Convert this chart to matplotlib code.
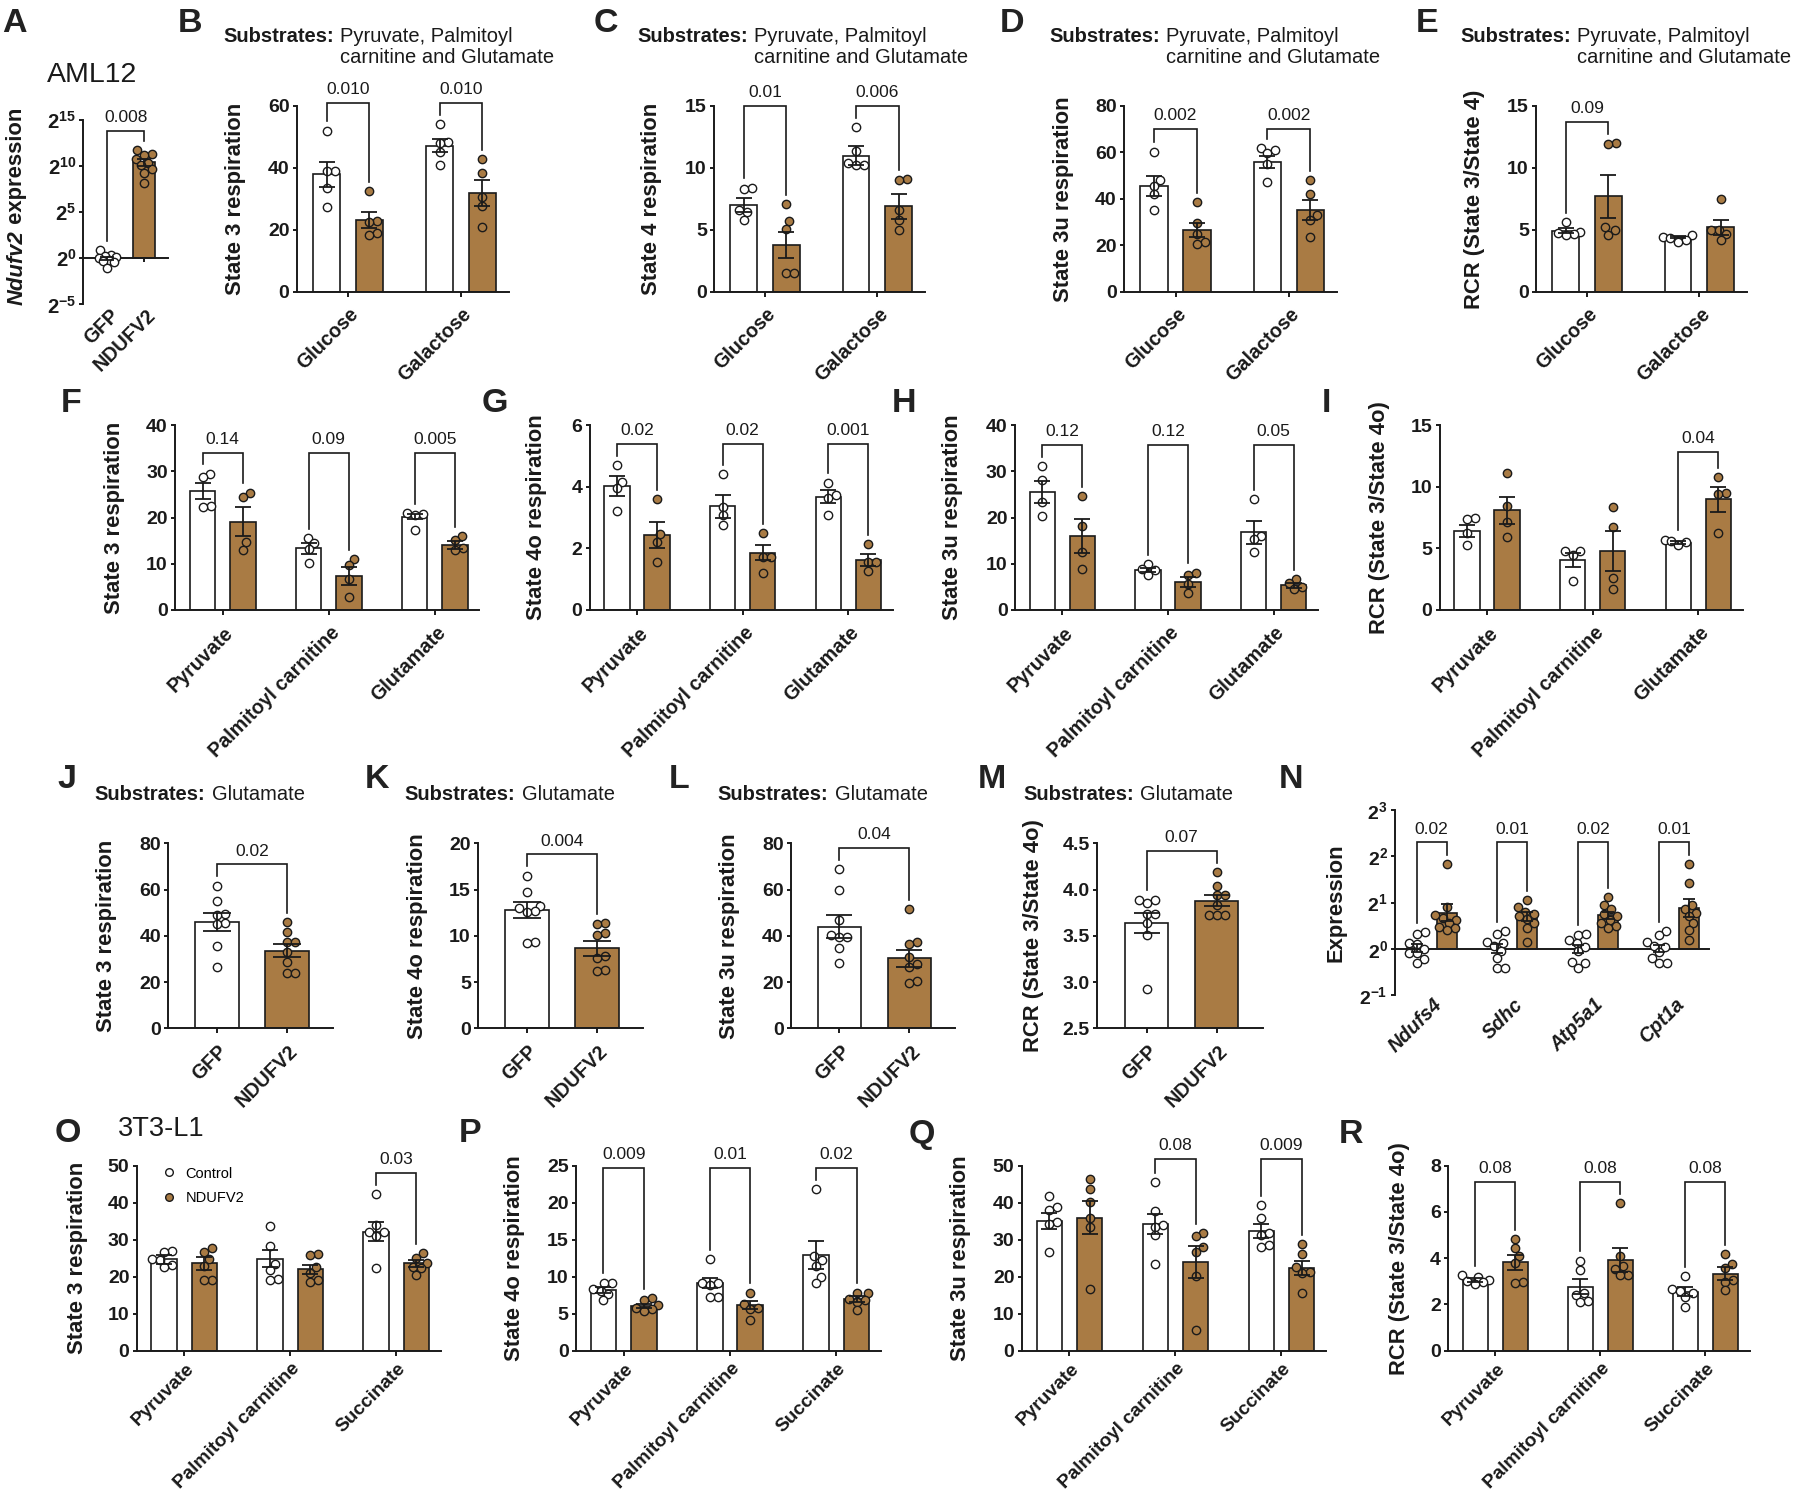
import numpy as np
import matplotlib
matplotlib.use('Agg')
import matplotlib.pyplot as plt
from matplotlib.lines import Line2D
from matplotlib.transforms import blended_transform_factory, ScaledTranslation

# ---------------------------------------------------------------- data ----
# Panel A (AML12, log2 expression)
A_labels = ['GFP', 'NDUFV2']
A_gfp_log2 = [0.9, 0.35, 0.2, 0.1, 0.0, -0.15, -0.25, -0.45, -1.0]
A_ndufv2_log2 = [11.7, 11.3, 11.2, 10.8, 10.3, 10.1, 9.7, 9.3, 8.2]
A_mean_log2 = [0.0, 10.4]
A_sem_log2 = [0.18, 0.4]
A_p = '0.008'

# Panels B-E (Glucose / Galactose)
BE_groups = ['Glucose', 'Galactose']
B_ctrl = [[52.0, 39.0, 39.0, 33.5, 27.3], [54.1, 48.5, 48.2, 45.2, 40.9]]
B_nd = [[32.5, 23.0, 22.6, 18.9, 18.3], [42.8, 38.5, 30.7, 27.7, 21.0]]
B_ctrl_mean, B_ctrl_sem = [37.9, 47.2], [4.0, 2.2]
B_nd_mean, B_nd_sem = [23.2, 31.8], [2.5, 4.2]
B_p = ['0.010', '0.010']

C_ctrl = [[8.4, 8.3, 6.6, 6.4, 5.8], [13.3, 11.4, 10.4, 10.2, 10.2]]
C_nd = [[7.1, 5.7, 5.1, 1.5, 1.5], [9.1, 9.0, 6.6, 5.8, 5.0]]
C_ctrl_mean, C_ctrl_sem = [7.0, 11.0], [0.57, 0.74]
C_nd_mean, C_nd_sem = [3.8, 6.9], [1.05, 1.0]
C_p = ['0.01', '0.006']

D_ctrl = [[60.3, 48.1, 45.5, 41.9, 35.2], [61.8, 61.0, 59.6, 54.9, 47.4]]
D_nd = [[38.5, 29.7, 25.0, 21.5, 20.5], [48.1, 42.1, 33.0, 30.9, 23.4]]
D_ctrl_mean, D_ctrl_sem = [45.5, 56.0], [4.3, 2.5]
D_nd_mean, D_nd_sem = [26.6, 35.2], [3.0, 4.5]
D_p = ['0.002', '0.002']

E_ctrl = [[5.6, 4.85, 4.75, 4.7, 4.55], [4.6, 4.4, 4.3, 4.2, 4.05]]
E_nd = [[12.0, 11.9, 5.2, 5.0, 4.6], [7.5, 5.0, 5.0, 4.7, 4.2]]
E_ctrl_mean, E_ctrl_sem = [4.93, 4.4], [0.2, 0.1]
E_nd_mean, E_nd_sem = [7.7, 5.2], [1.75, 0.6]
E_p = ['0.09', None]

# Panels F-I (Pyruvate / Palmitoyl carnitine / Glutamate)
FI_groups = ['Pyruvate', 'Palmitoyl carnitine', 'Glutamate']
F_ctrl = [[29.5, 28.8, 22.4, 22.3], [15.6, 14.5, 13.2, 10.1], [20.9, 20.7, 20.5, 17.3]]
F_nd = [[25.4, 24.5, 14.6, 13.0], [11.0, 9.7, 6.6, 2.9], [16.0, 15.1, 13.3, 13.0]]
F_ctrl_mean, F_ctrl_sem = [25.7, 13.3, 20.2], [1.75, 1.15, 0.6]
F_nd_mean, F_nd_sem = [19.1, 7.4, 14.05], [3.2, 2.0, 0.8]
F_p = ['0.14', '0.09', '0.005']

G_ctrl = [[4.7, 4.15, 3.95, 3.2], [4.4, 3.35, 3.08, 2.76], [4.13, 3.72, 3.62, 3.08]]
G_nd = [[3.6, 2.45, 2.2, 1.57], [2.5, 1.73, 1.73, 1.19], [2.13, 1.57, 1.57, 1.28]]
G_ctrl_mean, G_ctrl_sem = [4.02, 3.37, 3.68], [0.31, 0.37, 0.2]
G_nd_mean, G_nd_sem = [2.43, 1.86, 1.62], [0.43, 0.25, 0.2]
G_p = ['0.02', '0.02', '0.001']

H_ctrl = [[31.1, 28.1, 23.4, 20.3], [9.9, 8.8, 8.6, 7.6], [24.0, 16.0, 15.3, 12.6]]
H_nd = [[24.7, 18.2, 12.6, 8.8], [8.1, 7.6, 5.6, 3.6], [6.6, 5.9, 5.0, 4.5]]
H_ctrl_mean, H_ctrl_sem = [25.6, 8.65, 16.8], [2.4, 0.5, 2.45]
H_nd_mean, H_nd_sem = [16.0, 6.1, 5.3], [3.6, 1.1, 0.45]
H_p = ['0.12', '0.12', '0.05']

I_ctrl = [[7.43, 7.35, 6.27, 5.27], [4.8, 4.8, 4.5, 2.35], [5.7, 5.6, 5.5, 5.3]]
I_nd = [[11.08, 8.43, 7.16, 5.95], [8.38, 6.76, 2.57, 1.68], [10.76, 9.46, 9.4, 6.27]]
I_ctrl_mean, I_ctrl_sem = [6.43, 4.05, 5.46], [0.5, 0.55, 0.1]
I_nd_mean, I_nd_sem = [8.1, 4.8, 8.97], [1.1, 1.6, 1.0]
I_p = [None, None, '0.04']

# Panels J-M (Glutamate, GFP vs NDUFV2)
JM_labels = ['GFP', 'NDUFV2']
J_gfp = [61.7, 55.1, 49.5, 49.0, 45.5, 45.0, 35.6, 26.7]
J_nd = [45.8, 41.8, 37.5, 37.5, 33.0, 28.8, 23.8, 23.8]
J_mean, J_sem = [45.8, 33.6], [3.9, 2.9]
J_p = '0.02'

K_gfp = [16.5, 14.7, 13.2, 13.0, 12.7, 12.6, 9.3, 9.2]
K_nd = [11.4, 11.3, 10.3, 10.1, 7.8, 7.6, 6.3, 6.2]
K_mean, K_sem = [12.8, 8.65], [0.9, 0.78]
K_p = '0.004'

L_gfp = [68.9, 59.8, 46.8, 40.5, 39.6, 39.6, 34.6, 28.1]
L_nd = [51.5, 37.5, 36.5, 31.0, 28.0, 26.7, 20.5, 19.5]
L_mean, L_sem = [44.0, 30.3], [5.0, 3.7]
L_p = '0.04'

M_gfp = [3.89, 3.89, 3.86, 3.74, 3.74, 3.64, 3.51, 2.93]
M_nd = [4.19, 4.04, 3.94, 3.94, 3.83, 3.73, 3.73, 3.73]
M_mean, M_sem = [3.635, 3.88], [0.11, 0.06]
M_p = '0.07'

# Panel N (gene expression, log2)
N_genes = ['Ndufs4', 'Sdhc', 'Atp5a1', 'Cpt1a']
N_gfp_log2 = [[0.36, 0.31, 0.12, 0.10, 0.0, -0.1, -0.1, -0.22, -0.3],
              [0.38, 0.31, 0.15, 0.12, 0.05, -0.05, -0.2, -0.42, -0.42],
              [0.29, 0.31, 0.18, 0.12, 0.04, -0.05, -0.29, -0.31, -0.41],
              [0.38, 0.29, 0.15, 0.07, 0.04, -0.07, -0.2, -0.31, -0.31]]
N_nd_log2 = [[1.83, 0.91, 0.72, 0.67, 0.62, 0.55, 0.47, 0.45, 0.40],
             [1.05, 0.9, 0.8, 0.75, 0.7, 0.65, 0.55, 0.45, 0.15],
             [1.12, 0.95, 0.85, 0.75, 0.7, 0.62, 0.55, 0.49, 0.45],
             [1.83, 1.43, 0.95, 0.85, 0.78, 0.7, 0.55, 0.4, 0.2]]
N_gfp_mean_log2, N_gfp_sem_log2 = [0.02, 0.0, 0.0, 0.0], [0.08, 0.1, 0.09, 0.08]
N_nd_mean_log2, N_nd_sem_log2 = [0.78, 0.69, 0.72, 0.88], [0.18, 0.1, 0.08, 0.2]
N_p = ['0.02', '0.01', '0.02', '0.01']

# Panels O-R (3T3-L1: Pyruvate / Palmitoyl carnitine / Succinate)
OR_groups = ['Pyruvate', 'Palmitoyl carnitine', 'Succinate']
O_ctrl = [[27.0, 26.8, 24.8, 24.5, 23.2, 22.7], [33.7, 28.2, 23.5, 21.8, 19.3, 19.1],
          [42.3, 34.0, 32.2, 32.0, 31.0, 22.3]]
O_nd = [[27.7, 26.8, 24.7, 23.0, 19.1, 19.1], [26.1, 25.9, 22.7, 21.1, 19.1, 18.6],
        [26.3, 25.0, 23.8, 22.7, 22.3, 20.5]]
O_ctrl_mean, O_ctrl_sem = [24.7, 24.9, 32.2], [1.15, 2.25, 2.6]
O_nd_mean, O_nd_sem = [23.6, 22.0, 23.6], [1.8, 1.2, 0.9]
O_p = [None, None, '0.03']

P_ctrl = [[9.2, 9.1, 8.3, 8.1, 7.7, 6.85], [12.34, 9.19, 9.19, 8.87, 7.2, 7.2],
          [21.8, 12.8, 12.3, 11.5, 10.0, 9.1]]
P_nd = [[7.1, 6.9, 6.2, 5.75, 5.6, 5.4], [7.84, 6.3, 5.72, 5.59, 4.14],
        [7.84, 7.75, 7.0, 6.85, 6.6, 5.5]]
P_ctrl_mean, P_ctrl_sem = [8.2, 9.19, 12.93], [0.4, 0.68, 1.92]
P_nd_mean, P_nd_sem = [6.04, 6.17, 6.94], [0.3, 0.55, 0.4]
P_p = ['0.009', '0.01', '0.02']

Q_ctrl = [[41.8, 38.9, 38.0, 34.9, 34.2, 26.6], [45.5, 37.8, 34.0, 33.5, 31.2, 23.4],
          [39.4, 36.0, 31.7, 31.3, 28.6, 28.1]]
Q_nd = [[46.4, 43.6, 40.3, 35.8, 33.5, 16.8], [31.8, 31.0, 28.0, 26.8, 20.2, 5.6],
        [28.8, 26.1, 22.7, 21.4, 21.1, 15.5]]
Q_ctrl_mean, Q_ctrl_sem = [35.1, 34.2, 32.4], [2.25, 2.7, 1.9]
Q_nd_mean, Q_nd_sem = [36.0, 23.9, 22.4], [4.4, 4.3, 1.9]
Q_p = [None, '0.08', '0.009']

R_ctrl = [[3.27, 3.2, 3.05, 3.0, 2.95, 2.9], [3.9, 3.5, 2.5, 2.4, 2.15, 2.1],
          [3.23, 2.65, 2.6, 2.48, 2.34, 1.9]]
R_nd = [[4.81, 4.43, 4.1, 3.8, 2.95, 2.94], [6.37, 4.1, 3.65, 3.55, 3.28, 3.27],
        [4.18, 3.75, 3.56, 3.06, 2.98, 2.62]]
R_ctrl_mean, R_ctrl_sem = [3.06, 2.77, 2.55], [0.1, 0.32, 0.2]
R_nd_mean, R_nd_sem = [3.82, 3.92, 3.32], [0.31, 0.52, 0.28]
R_p = ['0.08', '0.08', '0.08']

# ------------------------------------------------------------- styling ----
W, H, DPI = 1800, 1497, 100
plt.rcParams['font.family'] = ['Liberation Sans', 'DejaVu Sans']
plt.rcParams['mathtext.fontset'] = 'custom'
plt.rcParams['mathtext.rm'] = 'Liberation Sans'
plt.rcParams['mathtext.bf'] = 'Liberation Sans:bold'
plt.rcParams['mathtext.it'] = 'Liberation Sans:italic'

INK = '#1a1a1a'
BROWN = '#A97B44'
TICK_FS = 14
XLAB_FS = 14.2
YLAB_FS = 15.8
P_FS = 12.5
LETTER_FS = 24.5
MS = 6.0
SPINE_LW = 1.4

fig = plt.figure(figsize=(W / DPI, H / DPI), dpi=DPI)
fig.patch.set_facecolor('white')


def swarm(ypx, diam, limit):
    ypx = np.asarray(ypx, float)
    offs = np.zeros(len(ypx))
    placed = []
    cands = [0.0]
    for k in range(1, 80):
        cands += [k * 0.5, -k * 0.5]
    for i in np.argsort(ypx):
        y = ypx[i]
        chosen = None
        for c in cands:
            if abs(c) > limit:
                break
            if all((c - px) ** 2 + (y - py) ** 2 >= diam ** 2 for px, py in placed):
                chosen = c
                break
        if chosen is None:
            best, chosen = -1, 0.0
            for c in cands:
                if abs(c) > limit:
                    continue
                d = min([(c - px) ** 2 + (y - py) ** 2 for px, py in placed] or [1e9])
                if d > best:
                    best, chosen = d, c
        placed.append((chosen, y))
        offs[i] = chosen
    return offs


def draw_panel(L, ctrl, nd, cmean, csem, nmean, nsem, pvals, xc, xn, ticks, ticklabels):
    x0, x1, yt, yb = L['box']
    ax = fig.add_axes([x0 / W, 1 - yb / H, (x1 - x0) / W, (yb - yt) / H])
    log = L.get('log', False)
    if log:
        ax.set_yscale('log', base=2)
        tr = lambda v: np.exp2(np.asarray(v, float))
        base = 1.0
    else:
        tr = lambda v: np.asarray(v, float)
        base = 0.0
    xlim, ylim = L['xlim'], L['ylim']
    ax.set_xlim(*xlim)
    ax.set_ylim(*tr(ylim))
    xppu = (x1 - x0) / (xlim[1] - xlim[0])
    yppu = (yb - yt) / (ylim[1] - ylim[0])
    bw = L['bw']
    cap = 0.31 * bw * xppu * 72 / DPI
    lim = L.get('swarm_lim', 0.55) * bw * xppu
    xc = np.asarray(xc, float)
    xn = np.asarray(xn, float)
    for xs, means, sems, pts, face in ((xc, cmean, csem, ctrl, 'white'), (xn, nmean, nsem, nd, BROWN)):
        m = np.asarray(means, float)
        s = np.asarray(sems, float)
        ax.bar(xs, tr(m) - base, bottom=base, width=bw, color=face, edgecolor=INK,
               linewidth=1.2, zorder=2)
        ax.errorbar(xs, tr(m), yerr=[tr(m) - tr(m - s), tr(m + s) - tr(m)], fmt='none',
                    ecolor=INK, elinewidth=1.3, capsize=cap, capthick=1.3, zorder=4)
        for xi, grp in zip(xs, pts):
            v = np.asarray(grp, float)
            offs = swarm((v - ylim[0]) * yppu, 8.0, lim) / xppu
            ax.plot(xi + offs, tr(v), 'o', ms=MS, mfc=face, mec=INK, mew=1.0,
                    zorder=3, clip_on=False)
    # brackets
    gap = 0.05 * (ylim[1] - ylim[0])
    for i, p in enumerate(pvals):
        if p is None:
            continue
        lc = max(max(ctrl[i]), cmean[i] + csem[i]) + gap
        ln = max(max(nd[i]), nmean[i] + nsem[i]) + gap
        top = L['top']
        ax.plot([xc[i], xc[i], xn[i], xn[i]], tr([lc, top, top, ln]), color=INK, lw=1.2,
                clip_on=False, zorder=5, solid_joinstyle='miter')
        ax.annotate(p, xy=((xc[i] + xn[i]) / 2, tr(top)), xytext=(0, 6.3),
                    textcoords='offset points', ha='center', va='baseline',
                    fontsize=P_FS, color=INK, annotation_clip=False)
    # axes styling
    for side in ('top', 'right'):
        ax.spines[side].set_visible(False)
    for side in ('left', 'bottom'):
        ax.spines[side].set_linewidth(SPINE_LW)
        ax.spines[side].set_color(INK)
    if log:
        ax.spines['bottom'].set_position(('data', 1.0))
    yt_vals = L['yticks']
    ax.set_yticks(tr(yt_vals))
    if log:
        ylabels = [r'$\mathbf{2^{%d}}$' % k for k in yt_vals]
    elif L.get('fmt'):
        ylabels = [L['fmt'] % k for k in yt_vals]
    else:
        ylabels = ['%d' % k for k in yt_vals]
    ax.set_yticklabels(ylabels, fontsize=L.get('ytfs', TICK_FS), fontweight='bold', color=INK)
    ax.yaxis.set_minor_locator(matplotlib.ticker.NullLocator())
    ax.tick_params(axis='y', length=3.2, width=SPINE_LW, pad=2, color=INK)
    ax.set_xticks(ticks)
    ax.set_xticklabels([])
    ax.tick_params(axis='x', length=L.get('xtl', 3.5), width=SPINE_LW, color=INK)
    dx, dy = L.get('xoff', (1, 13))
    trans = blended_transform_factory(ax.transData, ax.transAxes) + \
        ScaledTranslation(dx / DPI, -dy / DPI, fig.dpi_scale_trans)
    for t, lab in zip(ticks, ticklabels):
        ax.text(t, 0, lab, rotation=45, rotation_mode='anchor', ha='right', va='top',
                transform=trans, fontsize=L.get('xfs', XLAB_FS), fontweight='bold', color=INK,
                style=L.get('xstyle', 'normal'))
    if L.get('ylabel'):
        ax.text((L['ylx'] - x0) / (x1 - x0), 0.5, L['ylabel'], rotation=90, ha='center',
                va='center', transform=ax.transAxes, fontsize=YLAB_FS, fontweight='bold',
                color=INK)
    return ax


def fig_text(x, y, s, **kw):
    return fig.text(x / W, 1 - y / H, s, **kw)


def title(ax, x, ybase, rest):
    t1 = fig_text(x, ybase, 'Substrates:', fontsize=14.5, fontweight='bold', va='baseline',
                  ha='left', color=INK)
    ax.annotate(rest, xy=(1, 1), xycoords=t1, xytext=(4.5, 0), textcoords='offset points',
                ha='left', va='top', fontsize=14.5, color=INK, linespacing=1.15,
                annotation_clip=False)


# ------------------------------------------------------------- layout -----
row1 = dict(xlim=(-0.455, 1.425), bw=0.24)
row2 = dict(xlim=(-0.45, 2.42), bw=0.24)
row4 = dict(xlim=(-0.45, 2.42), bw=0.24, xoff=(1, 9), xfs=13.8)
row3 = dict(xlim=(-0.69, 1.65), bw=0.62)
LAY = {
    'A': dict(box=(83.4, 168.4, 120.0, 304.4), xlim=(-0.64, 1.65), ylim=(-5, 15),
              yticks=[-5, 0, 5, 10, 15], log=True, bw=0.59, top=13.8, xoff=(2, 1), xtl=3,
              swarm_lim=0.4, ytfs=14.5),
    'B': dict(row1, box=(296.6, 509.0, 106.0, 291.7), ylim=(0, 60), yticks=[0, 20, 40, 60],
              ylabel='State 3 respiration', ylx=235, top=61.1),
    'C': dict(row1, box=(714.0, 925.0, 106.0, 291.7), ylim=(0, 15), yticks=[0, 5, 10, 15],
              ylabel='State 4 respiration', ylx=651.7, top=15.0),
    'D': dict(row1, box=(1124.0, 1337.0, 106.0, 291.7), ylim=(0, 80), yticks=[0, 20, 40, 60, 80],
              ylabel='State 3u respiration', ylx=1063, top=70.0),
    'E': dict(row1, box=(1536.0, 1747.0, 106.0, 291.7), ylim=(0, 15), yticks=[0, 5, 10, 15],
              ylabel='RCR (State 3/State 4)', ylx=1474.8, top=13.7),
    'F': dict(row2, box=(175.0, 479.3, 425.0, 610.0), ylim=(0, 40), yticks=[0, 10, 20, 30, 40],
              ylabel='State 3 respiration', ylx=114.8, top=33.9),
    'G': dict(row2, box=(589.5, 892.6, 425.0, 610.0), ylim=(0, 6), yticks=[0, 2, 4, 6],
              ylabel='State 4o respiration', ylx=536.7, top=5.4),
    'H': dict(row2, box=(1014.8, 1318.0, 425.0, 610.0), ylim=(0, 40), yticks=[0, 10, 20, 30, 40],
              ylabel='State 3u respiration', ylx=952.8, top=35.7),
    'I': dict(row2, box=(1439.5, 1742.6, 425.0, 610.0), ylim=(0, 15), yticks=[0, 5, 10, 15],
              ylabel='RCR (State 3/State 4o)', ylx=1379.3, top=12.84),
    'J': dict(row3, box=(168.2, 333.0, 843.3, 1028.3), ylim=(0, 80), yticks=[0, 20, 40, 60, 80],
              ylabel='State 3 respiration', ylx=106.2, top=70.9, swarm_lim=0.3),
    'K': dict(row3, box=(478.0, 643.0, 843.3, 1028.3), ylim=(0, 20), yticks=[0, 5, 10, 15, 20],
              ylabel='State 4o respiration', ylx=417.3, top=18.8, swarm_lim=0.3),
    'L': dict(row3, box=(791.0, 955.0, 843.3, 1028.3), ylim=(0, 80), yticks=[0, 20, 40, 60, 80],
              ylabel='State 3u respiration', ylx=730, top=78.1, swarm_lim=0.3),
    'M': dict(row3, box=(1096.9, 1262.8, 843.3, 1028.3), xlim=(-0.71, 1.66), ylim=(2.5, 4.5),
              yticks=[2.5, 3.0, 3.5, 4.0, 4.5], fmt='%.1f', swarm_lim=0.3,
              ylabel='RCR (State 3/State 4o)', ylx=1033.2, top=4.42),
    'N': dict(box=(1394.8, 1709.4, 810.0, 995.0), xlim=(-0.456, 3.44), ylim=(-1, 3),
              yticks=[-1, 0, 1, 2, 3], log=True, bw=0.25, ylabel='Expression', ylx=1336.2,
              top=2.3, xoff=(1, 0), xtl=0, xstyle='italic', swarm_lim=0.6),
    'O': dict(row4, box=(136.6, 440.8, 1165.7, 1350.7), ylim=(0, 50), yticks=[0, 10, 20, 30, 40, 50],
              ylabel='State 3 respiration', ylx=77.5, top=48.1),
    'P': dict(row4, box=(575.8, 881.0, 1165.7, 1350.7), ylim=(0, 25), yticks=[0, 5, 10, 15, 20, 25],
              ylabel='State 4o respiration', ylx=514.9, top=24.7),
    'Q': dict(row4, box=(1021.7, 1326.0, 1165.7, 1350.7), ylim=(0, 50), yticks=[0, 10, 20, 30, 40, 50],
              ylabel='State 3u respiration', ylx=960.3, top=51.8),
    'R': dict(row4, box=(1448.0, 1749.5, 1165.7, 1350.7), ylim=(0, 8), yticks=[0, 2, 4, 6, 8],
              ylabel='RCR (State 3/State 4o)', ylx=1399.4, top=7.31),
}
OFF3 = 0.19
OFF_N = 0.186

# ------------------------------------------------------------- panels -----
axA = draw_panel(LAY['A'], [A_gfp_log2], [A_ndufv2_log2], [A_mean_log2[0]], [A_sem_log2[0]],
                 [A_mean_log2[1]], [A_sem_log2[1]], [A_p], [0], [1], [0, 1], A_labels)
tA = fig_text(17, 305, 'Ndufv2', rotation=90, ha='center', va='bottom', fontsize=YLAB_FS,
              fontweight='bold', style='italic', color=INK)
axA.annotate(' expression', xy=(0.5, 1), xycoords=tA, ha='center', va='bottom', rotation=90,
             fontsize=YLAB_FS, fontweight='bold', color=INK, annotation_clip=False)

g2 = np.arange(len(BE_groups))
for key, c, n, cm, cs, nm, ns, p in (
        ('B', B_ctrl, B_nd, B_ctrl_mean, B_ctrl_sem, B_nd_mean, B_nd_sem, B_p),
        ('C', C_ctrl, C_nd, C_ctrl_mean, C_ctrl_sem, C_nd_mean, C_nd_sem, C_p),
        ('D', D_ctrl, D_nd, D_ctrl_mean, D_ctrl_sem, D_nd_mean, D_nd_sem, D_p),
        ('E', E_ctrl, E_nd, E_ctrl_mean, E_ctrl_sem, E_nd_mean, E_nd_sem, E_p)):
    draw_panel(LAY[key], c, n, cm, cs, nm, ns, p, g2 - OFF3, g2 + OFF3, g2, BE_groups)

g3 = np.arange(len(FI_groups))
for key, c, n, cm, cs, nm, ns, p in (
        ('F', F_ctrl, F_nd, F_ctrl_mean, F_ctrl_sem, F_nd_mean, F_nd_sem, F_p),
        ('G', G_ctrl, G_nd, G_ctrl_mean, G_ctrl_sem, G_nd_mean, G_nd_sem, G_p),
        ('H', H_ctrl, H_nd, H_ctrl_mean, H_ctrl_sem, H_nd_mean, H_nd_sem, H_p),
        ('I', I_ctrl, I_nd, I_ctrl_mean, I_ctrl_sem, I_nd_mean, I_nd_sem, I_p)):
    draw_panel(LAY[key], c, n, cm, cs, nm, ns, p, g3 - OFF3, g3 + OFF3, g3, FI_groups)

for key, gfp, ndv, mean, sem, p in (('J', J_gfp, J_nd, J_mean, J_sem, J_p),
                                    ('K', K_gfp, K_nd, K_mean, K_sem, K_p),
                                    ('L', L_gfp, L_nd, L_mean, L_sem, L_p),
                                    ('M', M_gfp, M_nd, M_mean, M_sem, M_p)):
    draw_panel(LAY[key], [gfp], [ndv], [mean[0]], [sem[0]], [mean[1]], [sem[1]], [p],
               [0], [1], [0, 1], JM_labels)

g4 = np.arange(len(N_genes))
draw_panel(LAY['N'], N_gfp_log2, N_nd_log2, N_gfp_mean_log2, N_gfp_sem_log2,
           N_nd_mean_log2, N_nd_sem_log2, N_p, g4 - OFF_N, g4 + OFF_N, g4, N_genes)

g5 = np.arange(len(OR_groups))
axes_or = {}
for key, c, n, cm, cs, nm, ns, p in (
        ('O', O_ctrl, O_nd, O_ctrl_mean, O_ctrl_sem, O_nd_mean, O_nd_sem, O_p),
        ('P', P_ctrl, P_nd, P_ctrl_mean, P_ctrl_sem, P_nd_mean, P_nd_sem, P_p),
        ('Q', Q_ctrl, Q_nd, Q_ctrl_mean, Q_ctrl_sem, Q_nd_mean, Q_nd_sem, Q_p),
        ('R', R_ctrl, R_nd, R_ctrl_mean, R_ctrl_sem, R_nd_mean, R_nd_sem, R_p)):
    axes_or[key] = draw_panel(LAY[key], c, n, cm, cs, nm, ns, p, g5 - OFF3, g5 + OFF3, g5, OR_groups)

# legend in O
axO = axes_or['O']
handles = [Line2D([], [], marker='o', ls='', ms=5.5, mfc='white', mec=INK, mew=1.0),
           Line2D([], [], marker='o', ls='', ms=5.5, mfc=BROWN, mec=INK, mew=1.0)]
x0, x1, yt, yb = LAY['O']['box']
axO.legend(handles, ['Control', 'NDUFV2'], loc='upper left', frameon=False, fontsize=10.5,
           bbox_to_anchor=((162 - x0) / (x1 - x0), (yb - 1166.5) / (yb - yt)),
           borderaxespad=0, borderpad=0, handlelength=1.0, handletextpad=0.6,
           labelspacing=0.75)

# titles
for x in (223.0, 637.1, 1048.9, 1460.2):
    title(axA, x, 41.7, 'Pyruvate, Palmitoyl\ncarnitine and Glutamate')
for x in (94.7, 404.7, 717.5, 1023.4):
    title(axA, x, 800.0, 'Glutamate')

fig_text(46.7, 81.7, 'AML12', fontsize=20.5, color=INK, va='baseline', ha='left')
fig_text(117.5, 1136.0, '3T3-L1', fontsize=19.5, color=INK, va='baseline', ha='left')

# panel letters
letters = [('A', 2, 31.5), ('B', 178, 31.5), ('C', 593.5, 31.5), ('D', 1000, 31.5),
           ('E', 1415.5, 31.5), ('F', 60.3, 411.7), ('G', 482, 411.7), ('H', 892, 411.7),
           ('I', 1322, 411.7), ('J', 57.4, 788.3), ('K', 364.5, 788.3), ('L', 668.7, 788.3),
           ('M', 977.5, 788.3), ('N', 1278.8, 788.3), ('O', 55, 1142.5), ('P', 459, 1142.5),
           ('Q', 908.6, 1143), ('R', 1339, 1143)]
for s, x, y in letters:
    fig_text(x, y, s, fontsize=LETTER_FS, fontweight='bold', color='#222222', va='baseline',
             ha='left')

fig.savefig('out.png', dpi=DPI, facecolor='white')
